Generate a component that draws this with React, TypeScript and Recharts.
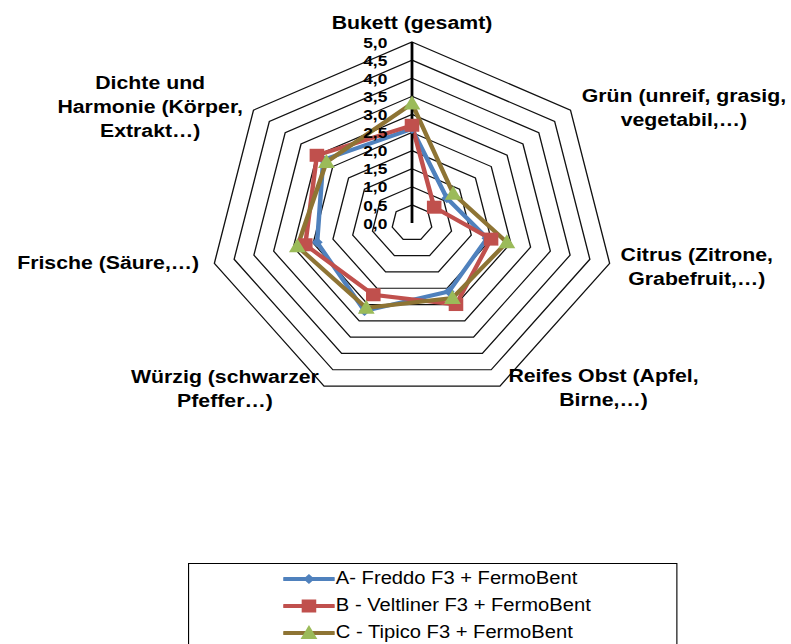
import {
  Legend,
  PolarAngleAxis,
  PolarGrid,
  PolarRadiusAxis,
  Radar,
  RadarChart,
} from "recharts";

const categories = [
  "Bukett (gesamt)",
  "Grün (unreif, grasig, vegetabil,…)",
  "Citrus (Zitrone, Grabefruit,…)",
  "Reifes Obst (Apfel, Birne,…)",
  "Würzig (schwarzer Pfeffer…)",
  "Frische (Säure,…)",
  "Dichte und Harmonie (Körper, Extrakt…)",
];

// how each category label is broken into lines
const categoryLines = [
  ["Bukett (gesamt)"],
  ["Grün (unreif, grasig,", "vegetabil,…)"],
  ["Citrus (Zitrone,", "Grabefruit,…)"],
  ["Reifes Obst (Apfel,", "Birne,…)"],
  ["Würzig (schwarzer", "Pfeffer…)"],
  ["Frische (Säure,…)"],
  ["Dichte und", "Harmonie (Körper,", "Extrakt…)"],
];

const seriesNames = [
  "A- Freddo F3 + FermoBent",
  "B - Veltliner F3 + FermoBent",
  "C - Tipico F3 + FermoBent",
];

const freddo = [2.6, 1.1, 1.9, 2.1, 2.7, 2.4, 2.8];
const veltliner = [2.7, 0.7, 2.0, 2.5, 2.2, 2.7, 3.0];
const tipico = [3.3, 1.3, 2.4, 2.3, 2.6, 2.9, 2.7];

const radiusTicks = [0, 0.5, 1, 1.5, 2, 2.5, 3, 3.5, 4, 4.5, 5];

const data = categories.map((c, i) => ({
  category: c,
  a: freddo[i],
  b: veltliner[i],
  c: tipico[i],
}));

const FONT = '"Liberation Sans", Arial, sans-serif';
const CX = 412;
const CY = 223;
const R = 181;
const STRETCH = 1.12;

const BLUE = "#4F81BD";
const RED = "#C0504D";
const BROWN = "#8E7434";
const GREEN = "#9BBB59";

// label nudges relative to the tick point, per category
const labelShift: [number, number][] = [
  [0, -12],
  [95, 2],
  [70, 1],
  [89, -6],
  [-85, -5],
  [-87, -3],
  [-86, 1],
];

function Marker({ kind, cx, cy }: { kind: string; cx: number; cy: number }) {
  if (kind === "diamond") {
    return (
      <path
        d={`M${cx},${cy - 5}L${cx + 5},${cy}L${cx},${cy + 5}L${cx - 5},${cy}Z`}
        fill={BLUE}
      />
    );
  }
  if (kind === "square") {
    return <rect x={cx - 6.5} y={cy - 6.5} width={13} height={13} fill={RED} />;
  }
  return (
    <path
      d={`M${cx},${cy - 8}L${cx + 7.5},${cy + 6}L${cx - 7.5},${cy + 6}Z`}
      fill={GREEN}
    />
  );
}

const markerFor: Record<string, { kind: string; line: string }> = {
  a: { kind: "diamond", line: BLUE },
  b: { kind: "square", line: RED },
  c: { kind: "triangle", line: BROWN },
};

function dotRenderer(kind: string) {
  return (props: any) => (
    <Marker key={`${kind}-${props.index}`} kind={kind} cx={props.cx} cy={props.cy} />
  );
}

function AngleTick(props: any) {
  const { x, y, payload } = props;
  const i = categories.indexOf(payload.value);
  const lines = categoryLines[i] ?? [payload.value];
  const [dx, dy] = labelShift[i] ?? [0, 0];
  const lh = 24;
  return (
    <text
      x={x + dx}
      y={y + dy}
      textAnchor="middle"
      fontFamily={FONT}
      fontSize={19}
      fontWeight="bold"
      fill="#000"
    >
      {lines.map((l, k) => (
        <tspan
          key={k}
          x={x + dx}
          y={y + dy + (k - (lines.length - 1) / 2) * lh}
          dominantBaseline="central"
        >
          {l}
        </tspan>
      ))}
    </text>
  );
}

function RadiusTick(props: any) {
  const { x, y, payload } = props;
  return (
    <text
      x={x - 22}
      y={y}
      textAnchor="end"
      dominantBaseline="central"
      fontFamily={FONT}
      fontSize={15.5}
      fontWeight="bold"
      fill="#000"
    >
      {Number(payload.value).toFixed(1).replace(".", ",")}
    </text>
  );
}

function LegendBox(props: any) {
  const payload = props.payload ?? [];
  return (
    <div
      style={{
        border: "1px solid #000",
        boxSizing: "border-box",
        width: 437,
        height: 100,
        paddingTop: 1,
        paddingLeft: 84,
        background: "#fff",
        fontFamily: FONT,
        fontSize: 18,
        color: "#000",
      }}
    >
      {payload.map((p: any, i: number) => {
        const m = markerFor[p.dataKey] ?? markerFor.a;
        return (
          <div key={i} style={{ display: "flex", alignItems: "center", height: 27 }}>
            <svg width={46} height={20} style={{ display: "block" }}>
              <line x1={1} y1={10} x2={45} y2={10} stroke={m.line} strokeWidth={4} strokeLinecap="round" />
              <Marker kind={m.kind} cx={23} cy={10} />
            </svg>
            <span style={{ marginLeft: 1, whiteSpace: "nowrap" }}>{p.value}</span>
          </div>
        );
      })}
    </div>
  );
}

export default function App() {
  return (
    <div
      style={{
        position: "absolute",
        left: 0,
        top: 0,
        width: 791,
        height: 644,
        overflow: "hidden",
        background: "#fff",
      }}
    >
      <div style={{ transform: `scaleX(${STRETCH})`, transformOrigin: `${CX}px 0px` }}>
        <RadarChart
          width={791}
          height={644}
          data={data}
          cx={CX}
          cy={CY}
          outerRadius={R}
          margin={{ top: 0, right: 0, bottom: 0, left: 0 }}
        >
          <PolarGrid gridType="polygon" radialLines={false} stroke="#111" strokeWidth={1.2} />
          <PolarAngleAxis
            dataKey="category"
            tick={<AngleTick />}
            tickLine={false}
            axisLine={false}
          />
          <PolarRadiusAxis
            angle={90}
            domain={[0, 5]}
            ticks={radiusTicks as any}
            tickCount={11}
            tick={<RadiusTick />}
            tickLine={false}
            axisLine={{ stroke: "#000", strokeWidth: 2.5 }}
          />
          <Radar
            name={seriesNames[0]}
            dataKey="a"
            stroke={BLUE}
            strokeWidth={4}
            fill="none"
            fillOpacity={0}
            dot={dotRenderer("diamond")}
            isAnimationActive={false}
          />
          <Radar
            name={seriesNames[1]}
            dataKey="b"
            stroke={RED}
            strokeWidth={4}
            fill="none"
            fillOpacity={0}
            dot={dotRenderer("square")}
            isAnimationActive={false}
          />
          <Radar
            name={seriesNames[2]}
            dataKey="c"
            stroke={BROWN}
            strokeWidth={4}
            fill="none"
            fillOpacity={0}
            dot={dotRenderer("triangle")}
            isAnimationActive={false}
          />
          <Legend
            content={<LegendBox />}
            wrapperStyle={{ position: "absolute", left: 212, top: 563, width: 437, bottom: "auto" }}
          />
        </RadarChart>
      </div>
    </div>
  );
}
